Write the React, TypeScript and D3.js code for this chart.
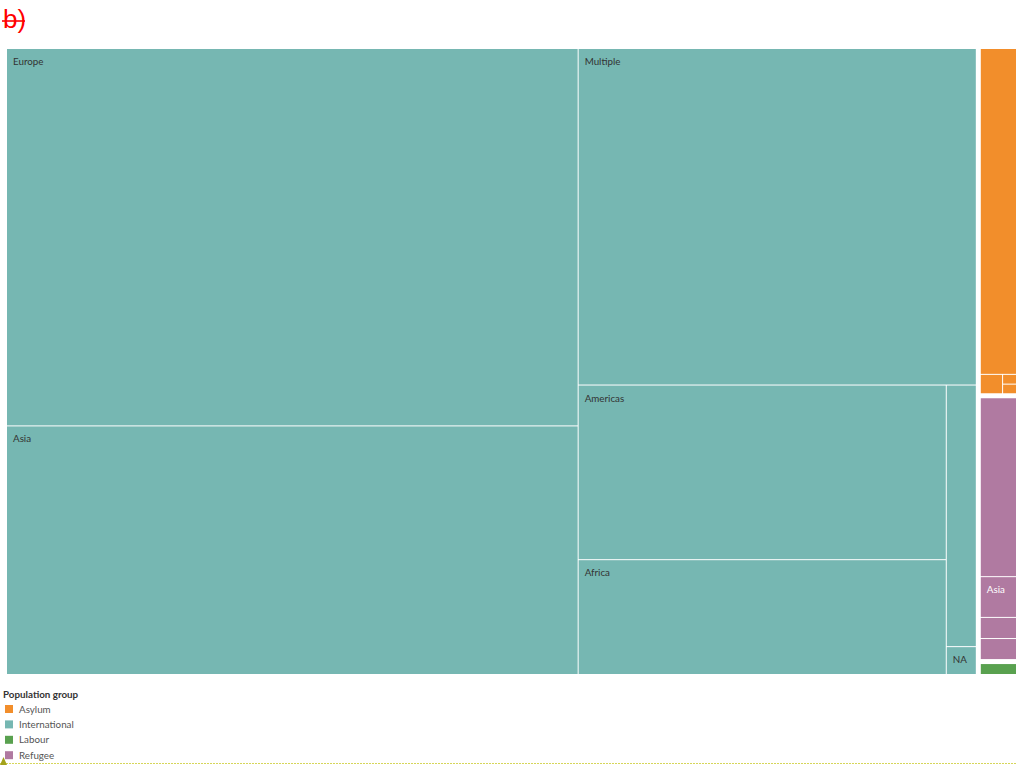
import React, { useEffect, useRef } from 'react';
import * as d3 from 'd3';

const titleText = 'b)';
const legendTitle = 'Population group';
const groupNames = ['Asylum', 'International', 'Labour', 'Refugee'];
const groupColors = ['#f28e2b', '#76b7b2', '#59a14f', '#b07aa1'];
const labelColors = ['#ffffff', '#333333', '#ffffff', '#ffffff'];

const internationalRegions = ['Europe', 'Asia', 'Multiple', 'Americas', 'Africa', 'Oceania', 'NA'];
const internationalValues = [218055, 143640, 135431, 64982, 42721, 7943, 846];
const asylumRegions = ['Multiple', 'Asia', 'Africa', 'Americas'];
const asylumValues = [14900, 480, 205, 202];
const labourRegions = ['Asia'];
const labourValues = [675];
const refugeeRegions = ['Multiple', 'Asia', 'Europe', 'Americas'];
const refugeeValues = [8210, 1870, 970, 965];

const regionsByGroup = [asylumRegions, internationalRegions, labourRegions, refugeeRegions];
const valuesByGroup = [asylumValues, internationalValues, labourValues, refugeeValues];

const W = 1016;
const H = 765;

export default function App() {
  const ref = useRef<SVGSVGElement | null>(null);

  useEffect(() => {
    const svg = d3.select(ref.current);
    svg.selectAll('*').remove();

    const data = {
      name: 'root',
      children: groupNames.map((g, gi) => ({
        name: g,
        gi,
        children: regionsByGroup[gi].map((r, i) => ({ name: r, gi, value: valuesByGroup[gi][i] })),
      })),
    };

    const root = d3
      .hierarchy<any>(data)
      .sum((d: any) => d.value ?? 0)
      .sort((a, b) => (b.value ?? 0) - (a.value ?? 0));

    const sqGolden = d3.treemapSquarify;
    const sqOne = d3.treemapSquarify.ratio(1);

    d3
      .treemap<any>()
      .size([1014, 625])
      .paddingInner((n: any) => (n.depth === 0 ? 5 : 1))
      .tile((node: any, x0: number, y0: number, x1: number, y1: number) =>
        (node.data.name === 'International' ? sqGolden : sqOne)(node, x0, y0, x1, y1)
      )(root);

    const color = d3.scaleOrdinal<string, string>().domain(groupNames).range(groupColors);
    const labelColor = d3.scaleOrdinal<string, string>().domain(groupNames).range(labelColors);

    // title
    const t = svg.append('g');
    t.append('text')
      .attr('x', 3)
      .attr('y', 28)
      .attr('font-family', '"Liberation Sans", Arial, sans-serif')
      .attr('font-size', 26)
      .attr('fill', '#ff0000')
      .text(titleText);
    t.append('line')
      .attr('x1', 2)
      .attr('x2', 25)
      .attr('y1', 21)
      .attr('y2', 21)
      .attr('stroke', '#ff0000')
      .attr('stroke-width', 1.6);

    const g = svg.append('g').attr('transform', 'translate(7,49)');
    const leaves = root.leaves();
    const cell = g
      .selectAll('g.cell')
      .data(leaves)
      .join('g')
      .attr('class', 'cell');

    cell
      .append('rect')
      .attr('x', (d: any) => d.x0)
      .attr('y', (d: any) => d.y0)
      .attr('width', (d: any) => Math.max(0, d.x1 - d.x0))
      .attr('height', (d: any) => Math.max(0, d.y1 - d.y0))
      .attr('fill', (d: any) => color(d.parent.data.name));

    cell
      .append('text')
      .attr('x', (d: any) => d.x0 + 6)
      .attr('y', (d: any) => d.y0 + 16)
      .attr('font-family', 'Lato, "Noto Sans", sans-serif')
      .attr('font-size', 9.8)
      .attr('fill', (d: any) => labelColor(d.parent.data.name))
      .text((d: any) => d.data.name)
      .each(function (d: any) {
        const el = this as SVGTextElement;
        const tw = el.getComputedTextLength();
        const cw = d.x1 - d.x0;
        const ch = d.y1 - d.y0;
        if (tw + 10 > cw || ch < 24) el.remove();
      });

    // legend
    const lg = svg.append('g').attr('transform', 'translate(3,698)');
    lg.append('text')
      .attr('x', 0)
      .attr('y', 0)
      .attr('font-family', 'Lato, "Noto Sans", sans-serif')
      .attr('font-size', 9.8)
      .attr('font-weight', 'bold')
      .attr('fill', '#333')
      .text(legendTitle);
    const items = lg
      .selectAll('g.item')
      .data(groupNames)
      .join('g')
      .attr('class', 'item')
      .attr('transform', (_d, i) => `translate(0,${7 + i * 15.4})`);
    items
      .append('rect')
      .attr('x', 2)
      .attr('y', 0)
      .attr('width', 8)
      .attr('height', 8)
      .attr('fill', (d) => color(d));
    items
      .append('text')
      .attr('x', 16)
      .attr('y', 7.5)
      .attr('font-family', 'Lato, "Noto Sans", sans-serif')
      .attr('font-size', 9.8)
      .attr('fill', '#555')
      .text((d) => d);

    // bottom marker line
    svg
      .append('line')
      .attr('x1', 0)
      .attr('x2', W)
      .attr('y1', 763.5)
      .attr('y2', 763.5)
      .attr('stroke', '#d6d65a')
      .attr('stroke-width', 1)
      .attr('stroke-dasharray', '2,1');
    svg
      .append('path')
      .attr('d', 'M0,765 L3.5,757 L7,765 Z')
      .attr('fill', '#a3a21c');
  }, []);

  return (
    <svg
      ref={ref}
      width={W}
      height={H}
      style={{ position: 'absolute', left: 0, top: 0, background: '#fff' }}
    />
  );
}
